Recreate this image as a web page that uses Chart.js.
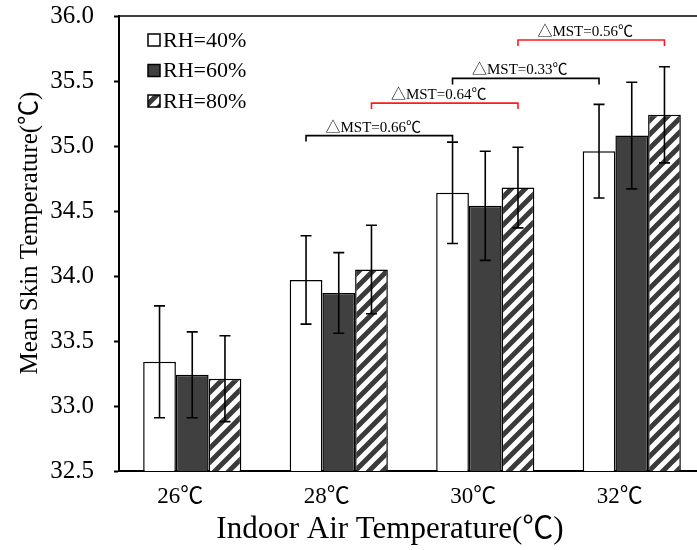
<!DOCTYPE html>
<html>
<head>
<meta charset="utf-8">
<script src="https://cdn.jsdelivr.net/npm/chart.js@4/dist/chart.umd.min.js"></script>
<style>
  html, body { margin: 0; padding: 0; background: #fff; overflow: hidden; }
  #wrap { width: 712px; height: 550px; }
</style>
</head>
<body>
<div id="wrap"><canvas id="mst" width="712" height="550"></canvas></div>
<script>
const categories = ["26℃", "28℃", "30℃", "32℃"];
const rh40 = [33.34, 33.97, 34.64, 34.96];
const rh60 = [33.24, 33.87, 34.54, 35.08];
const rh80 = [33.21, 34.05, 34.68, 35.24];
const err40 = [0.43, 0.34, 0.39, 0.36];
const err60 = [0.33, 0.31, 0.42, 0.41];
const err80 = [0.33, 0.34, 0.31, 0.37];
const yTicks = [32.5, 33.0, 33.5, 34.0, 34.5, 35.0, 35.5, 36.0];

// differences marked above the bars: [dataset, category] -> [dataset, category]
const brackets = [
  { from: [0, 1], to: [0, 2], level: 35.08, label: "△MST=0.66℃", red: false },
  { from: [2, 1], to: [2, 2], level: 35.33, label: "△MST=0.64℃", red: true },
  { from: [0, 2], to: [0, 3], level: 35.52, label: "△MST=0.33℃", red: false },
  { from: [2, 2], to: [2, 3], level: 35.815, label: "△MST=0.56℃", red: true },
];

const serif = '"Liberation Serif", "Times New Roman", "Noto Sans CJK SC", serif';
Chart.defaults.font.family = serif;
const ctx = document.getElementById("mst").getContext("2d");

// diagonal hatch
const tile = document.createElement("canvas");
tile.width = 14; tile.height = 14;
const t = tile.getContext("2d");
t.fillStyle = "#fff";
t.fillRect(0, 0, 14, 14);
t.strokeStyle = "#3a3a3a";
t.lineWidth = 5;
t.beginPath();
t.moveTo(-7, 7); t.lineTo(7, -7);
t.moveTo(0, 14); t.lineTo(14, 0);
t.moveTo(7, 21); t.lineTo(21, 7);
t.stroke();
const hatch = ctx.createPattern(tile, "repeat");

const errors = [err40, err60, err80];

const extras = {
  id: "extras",
  afterDatasetsDraw(chart) {
    const c = chart.ctx;
    const y = chart.scales.y;
    const area = chart.chartArea;
    c.save();

    // error bars
    c.strokeStyle = "#000";
    c.lineWidth = 1.6;
    chart.data.datasets.forEach((ds, di) => {
      chart.getDatasetMeta(di).data.forEach((bar, i) => {
        const v = ds.data[i], e = errors[di][i];
        const top = y.getPixelForValue(v + e), bot = y.getPixelForValue(v - e);
        c.beginPath();
        c.moveTo(bar.x, top); c.lineTo(bar.x, bot);
        c.moveTo(bar.x - 5.5, top); c.lineTo(bar.x + 5.5, top);
        c.moveTo(bar.x - 5.5, bot); c.lineTo(bar.x + 5.5, bot);
        c.stroke();
      });
    });

    // brackets
    brackets.forEach(b => {
      const x1 = chart.getDatasetMeta(b.from[0]).data[b.from[1]].x;
      const x2 = chart.getDatasetMeta(b.to[0]).data[b.to[1]].x;
      const py = y.getPixelForValue(b.level);
      c.strokeStyle = b.red ? "#ff1a1a" : "#000";
      c.lineWidth = 1.6;
      c.beginPath();
      c.moveTo(x1, py + 6); c.lineTo(x1, py); c.lineTo(x2, py); c.lineTo(x2, py + 6);
      c.stroke();
      c.fillStyle = "#000";
      c.font = "15px " + serif;
      c.textAlign = "center";
      c.textBaseline = "middle";
      c.fillText(b.label, (x1 + x2) / 2 - 6, py - 8);
    });

    // top frame line
    c.strokeStyle = "#000";
    c.lineWidth = 1.5;
    c.beginPath();
    c.moveTo(area.left, area.top); c.lineTo(chart.width, area.top);
    c.stroke();

    // legend
    c.font = "22px " + serif;
    c.textAlign = "left";
    c.textBaseline = "middle";
    chart.data.datasets.forEach((ds, di) => {
      const cy = area.top + 24 + di * 30.5;
      c.fillStyle = ds.backgroundColor;
      c.fillRect(area.left + 29, cy - 6, 12, 12);
      c.lineWidth = 1.5;
      c.strokeStyle = "#000";
      c.strokeRect(area.left + 29, cy - 6, 12, 12);
      c.fillStyle = "#000";
      c.fillText(ds.label, area.left + 44, cy + 1);
    });

    // axis titles
    c.textAlign = "center";
    c.textBaseline = "alphabetic";
    c.font = "31px " + serif;
    c.fillText("Indoor Air Temperature(℃)", 390, 538);
    c.font = "25px " + serif;
    c.translate(37, 233);
    c.rotate(-Math.PI / 2);
    c.fillText("Mean Skin Temperature(℃)", 0, 0);
    c.restore();
  }
};

new Chart(ctx, {
  type: "bar",
  data: {
    labels: categories,
    datasets: [
      { label: "RH=40%", data: rh40, backgroundColor: "#ffffff" },
      { label: "RH=60%", data: rh60, backgroundColor: "#404040" },
      { label: "RH=80%", data: rh80, backgroundColor: hatch },
    ],
  },
  options: {
    responsive: false,
    animation: false,
    layout: { padding: { top: 16, right: 7, left: 0, bottom: 0 } },
    datasets: {
      bar: {
        borderColor: "#000",
        borderWidth: 1.5,
        barPercentage: 1,
        categoryPercentage: 0.67,
      },
    },
    plugins: { legend: { display: false }, tooltip: { enabled: false } },
    scales: {
      x: {
        grid: { display: false },
        border: { display: true, color: "#000", width: 2 },
        ticks: { color: "#000", font: { family: serif, size: 23 }, padding: 4, labelOffset: -12 },
        afterFit(s) { s.height = 79; s.paddingLeft = 0; s.paddingRight = 0; },
      },
      y: {
        min: 32.5,
        max: 36,
        afterBuildTicks(s) { s.ticks = yTicks.map(v => ({ value: v })); },
        grid: { drawOnChartArea: false, tickLength: 5, tickWidth: 2, tickColor: "#000" },
        border: { display: true, color: "#000", width: 2 },
        ticks: { color: "#000", font: { family: serif, size: 25 }, padding: 20, callback: v => v.toFixed(1) },
        afterFit(s) { s.width = 119; s.paddingTop = 0; s.paddingBottom = 0; },
      },
    },
  },
  plugins: [extras],
});
</script>
</body>
</html>
